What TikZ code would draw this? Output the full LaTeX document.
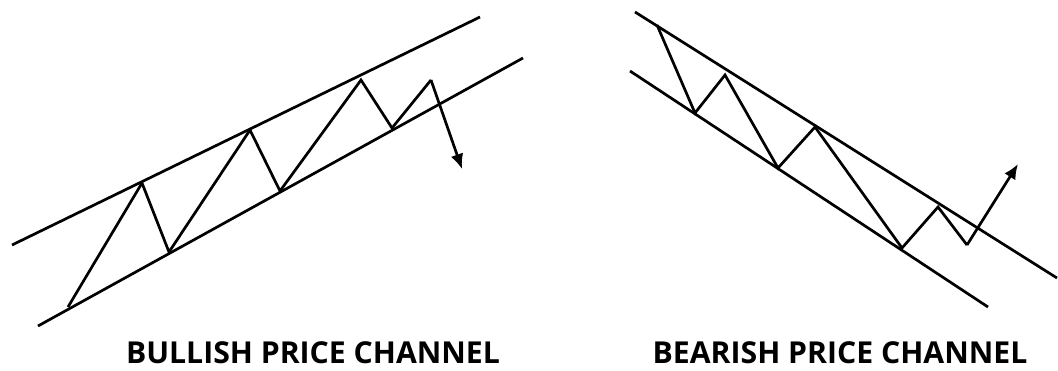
\documentclass[tikz,border=0pt]{standalone}
\usepackage{fontspec}
\setmainfont{Open Sans}
\usetikzlibrary{arrows.meta}

\begin{document}
\begin{tikzpicture}[
  x=1pt, y=-1pt,
  chan/.style={line width=2.7pt},
  wave/.style={line width=2.7pt, line join=miter},
  brk/.style={wave, -{Latex[length=15pt, width=13pt]}},
  caption/.style={font=\fontsize{30.2}{32}\selectfont\bfseries, inner sep=0pt,
    text depth=0pt, anchor=base}
]
\useasboundingbox (0,0) rectangle (1058,370);

% bullish channel
\coordinate (ua) at (12,245);  \coordinate (ub) at (480,17);
\coordinate (la) at (38,326);  \coordinate (lb) at (523,58);
\draw[chan] (ua) -- (ub);
\draw[chan] (la) -- (lb);
\coordinate (p0) at (68,307);
\coordinate (p1) at (142,183);
\coordinate (p2) at (169,252);
\coordinate (p3) at (250,130);
\coordinate (p4) at (280,191);
\coordinate (p5) at (361,80);
\coordinate (p6) at (392,128);
\coordinate (p7) at (431,80);
\coordinate (p8) at (462,169);
\draw[wave] (p0) -- (p1) -- (p2) -- (p3) -- (p4) -- (p5) -- (p6) -- (p7);
\draw[brk] (p7) -- (p8);
\node[caption] (bull) at (313,363) {BULLISH PRICE CHANNEL};

% bearish channel
\coordinate (va) at (635,12);  \coordinate (vb) at (1057,278);
\coordinate (ma) at (630,71);  \coordinate (mb) at (988,307);
\draw[chan] (va) -- (vb);
\draw[chan] (ma) -- (mb);
\coordinate (q0) at (657,25);
\coordinate (q1) at (695,113);
\coordinate (q2) at (725,75);
\coordinate (q3) at (778,168);
\coordinate (q4) at (815,127);
\coordinate (q5) at (902,248);
\coordinate (q6) at (938,207);
\coordinate (q7) at (967,245);
\coordinate (q8) at (1018,164);
\draw[wave] (q0) -- (q1) -- (q2) -- (q3) -- (q4) -- (q5) -- (q6) -- (q7);
\draw[brk] (q7) -- (q8);
\node[caption] (bear) at (840,363) {BEARISH PRICE CHANNEL};
\end{tikzpicture}
\end{document}
